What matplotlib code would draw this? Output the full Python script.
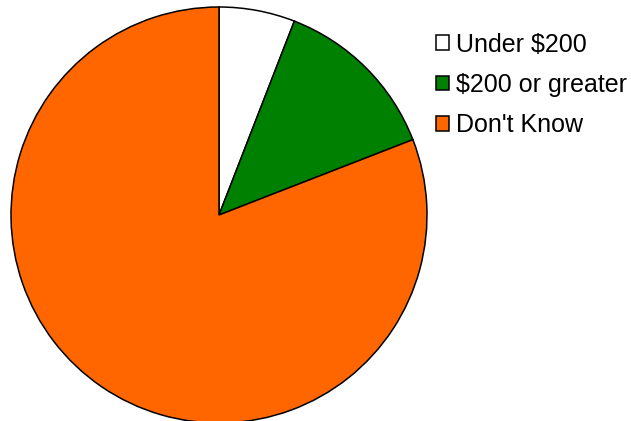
import matplotlib
matplotlib.use("Agg")
import matplotlib.pyplot as plt
from matplotlib.patches import Patch

plt.rcParams["font.family"] = ["Liberation Sans", "DejaVu Sans"]

labels = ["Under $200", "$200 or greater", "Don't Know"]
shares = [5.9, 13.2, 80.9]
colors = ["#FFFFFF", "#008000", "#FF6600"]

W, H, DPI = 631, 421, 100
cx, cy, r = 219, 215, 208  # pie centre and radius in pixels

fig = plt.figure(figsize=(W / DPI, H / DPI), dpi=DPI)
ax = fig.add_axes([0, 0, 1, 1])
ax.pie(
    shares,
    colors=colors,
    startangle=90,
    counterclock=False,
    radius=1,
    wedgeprops={"edgecolor": "black", "linewidth": 1.1},
)
ax.set_xlim(-cx / r, (W - cx) / r)
ax.set_ylim(-(H - cy) / r, cy / r)
ax.set_aspect("equal")
ax.axis("off")

handles = [Patch(facecolor=c, edgecolor="black", linewidth=1.1) for c in colors]
fig.legend(
    handles,
    labels,
    loc="upper left",
    bbox_to_anchor=(436 / W, 1 - 32.5 / H),
    frameon=False,
    fontsize=18,
    handlelength=0.52,
    handleheight=0.52,
    handletextpad=0.28,
    labelspacing=0.66,
    borderpad=0,
    borderaxespad=0,
)

fig.savefig("out.png", dpi=DPI)
